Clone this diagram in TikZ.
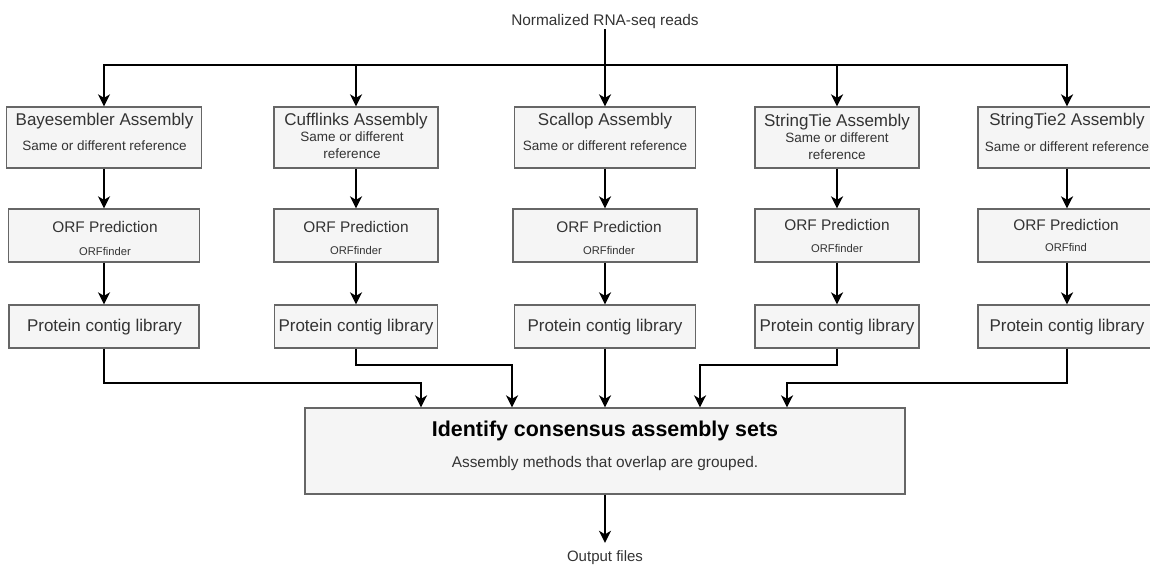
\documentclass[tikz,border=0pt]{standalone}
\usepackage{fontspec}
\setmainfont{Liberation Sans}
\usetikzlibrary{arrows.meta}
\definecolor{boxfill}{HTML}{F5F5F5}
\definecolor{boxline}{HTML}{666666}
\definecolor{ink}{HTML}{333333}
\newcommand{\fsz}[1]{\fontsize{#1}{#1}\selectfont}

\begin{document}
\begin{tikzpicture}[x=1pt,y=-1pt,
  stage/.style={draw=boxline, line width=1.3pt, fill=boxfill, inner sep=0pt},
  ttl/.style={inner sep=0pt, text=ink, font=\fsz{17}},
  sub/.style={inner sep=0pt, text=ink, font=\fsz{13.5}},
  orf/.style={inner sep=0pt, text=ink, font=\fsz{15.4}},
  tool/.style={inner sep=0pt, text=ink, font=\fsz{11.2}},
  plain/.style={inner sep=0pt, text=ink, font=\fsz{15.4}},
  wire/.style={line width=2.4pt, line join=miter, draw=black},
  arr/.style={wire, -{Stealth[length=12pt,width=12pt,inset=3.5pt]}}]

\useasboundingbox (0,0) rectangle (1150,566);

% input reads
\node[plain] (src) at (605,22) {Normalized RNA-seq reads};
\coordinate (jn) at (605,65);

% assembly stage
\node[stage, minimum width=195pt, minimum height=61pt] (bay) at (104,137.5) {};
\node[stage, minimum width=164pt, minimum height=61pt] (cuf) at (356,137.5) {};
\node[stage, minimum width=181pt, minimum height=61pt] (sca) at (605,137.5) {};
\node[stage, minimum width=164pt, minimum height=61pt] (stt) at (837,137.5) {};
\node[stage, minimum width=178pt, minimum height=61pt] (st2) at (1067,137.5) {};

\node[ttl] (bayT) at (104.5,121) {Bayesembler Assembly};
\node[sub] (bayS) at (104.5,146) {Same or different reference};
\node[ttl] (cufT) at (356,121.5) {Cufflinks Assembly};
\node[sub] (cufS) at (352,137) {Same or different};
\node[sub] (cufR) at (352,154) {reference};
\node[ttl] (scaT) at (605,121) {Scallop Assembly};
\node[sub] (scaS) at (605,146) {Same or different reference};
\node[ttl] (sttT) at (837,122) {StringTie Assembly};
\node[sub] (sttS) at (837,138) {Same or different};
\node[sub] (sttR) at (837,155) {reference};
\node[ttl] (st2T) at (1067,121) {StringTie2 Assembly};
\node[sub] (st2S) at (1067,147) {Same or different reference};

% ORF prediction stage
\node[stage, minimum width=191pt, minimum height=53pt] (obay) at (104,235.5) {};
\node[stage, minimum width=164pt, minimum height=53pt] (ocuf) at (356,235.5) {};
\node[stage, minimum width=184pt, minimum height=53pt] (osca) at (605,235.5) {};
\node[stage, minimum width=164pt, minimum height=53pt] (ostt) at (837,235.5) {};
\node[stage, minimum width=178pt, minimum height=53pt] (ost2) at (1067,235.5) {};

\node[orf] (obayT) at (105,227) {ORF Prediction};
\node[tool] (obayS) at (105,251) {ORFfinder};
\node[orf] (ocufT) at (356,227) {ORF Prediction};
\node[tool] (ocufS) at (356,250) {ORFfinder};
\node[orf] (oscaT) at (609,227) {ORF Prediction};
\node[tool] (oscaS) at (609,250) {ORFfinder};
\node[orf] (osttT) at (837,225) {ORF Prediction};
\node[tool] (osttS) at (837,248) {ORFfinder};
\node[orf] (ost2T) at (1066,225) {ORF Prediction};
\node[tool] (ost2S) at (1066,247) {ORFfind};

% protein libraries
\node[stage, minimum width=190pt, minimum height=43pt] (pbay) at (104,326.5) {};
\node[stage, minimum width=163pt, minimum height=43pt] (pcuf) at (356,326.5) {};
\node[stage, minimum width=181pt, minimum height=43pt] (psca) at (605,326.5) {};
\node[stage, minimum width=164pt, minimum height=43pt] (pstt) at (837,326.5) {};
\node[stage, minimum width=178pt, minimum height=43pt] (pst2) at (1067,326.5) {};

\node[ttl] (pbayT) at (104.5,327) {Protein contig library};
\node[ttl] (pcufT) at (356,327) {Protein contig library};
\node[ttl] (pscaT) at (605,327) {Protein contig library};
\node[ttl] (psttT) at (837,327) {Protein contig library};
\node[ttl] (pst2T) at (1067,327) {Protein contig library};

% consensus step and output
\node[stage, minimum width=600pt, minimum height=86pt] (main) at (605,451) {};
\node[inner sep=0pt, text=black, font=\fsz{21.4}\bfseries] (mainT) at (605,431) {Identify consensus assembly sets};
\node[plain] (mainS) at (605,464) {Assembly methods that overlap are grouped.};
\node[inner sep=0pt, text=ink, font=\fsz{15}] (out) at (605,558) {Output files};

% fan-out of the reads
\draw[wire] (src.south) -- (jn);
\draw[arr] (jn) -- (sca.north);
\draw[arr] (jn) -| (bay.north);
\draw[arr] (jn) -| (cuf.north);
\draw[arr] (jn) -| (stt.north);
\draw[arr] (jn) -| (st2.north);

% per-assembler pipelines
\foreach \a/\b/\c in {bay/obay/pbay, cuf/ocuf/pcuf, sca/osca/psca, stt/ostt/pstt, st2/ost2/pst2}{
  \draw[arr] (\a.south) -- (\b.north);
  \draw[arr] (\b.south) -- (\c.north);
}

% libraries into the consensus step
\draw[arr] (pbay.south) -- (pbay.south |- 0,383) -| ([xshift=-184pt]main.north);
\draw[arr] (pcuf.south) -- (pcuf.south |- 0,365) -| ([xshift=-93pt]main.north);
\draw[arr] (psca.south) -- (main.north);
\draw[arr] (pstt.south) -- (pstt.south |- 0,365) -| ([xshift=95pt]main.north);
\draw[arr] (pst2.south) -- (pst2.south |- 0,383) -| ([xshift=182pt]main.north);

\draw[arr] (main.south) -- ([yshift=8pt]out.north);
\end{tikzpicture}
\end{document}
